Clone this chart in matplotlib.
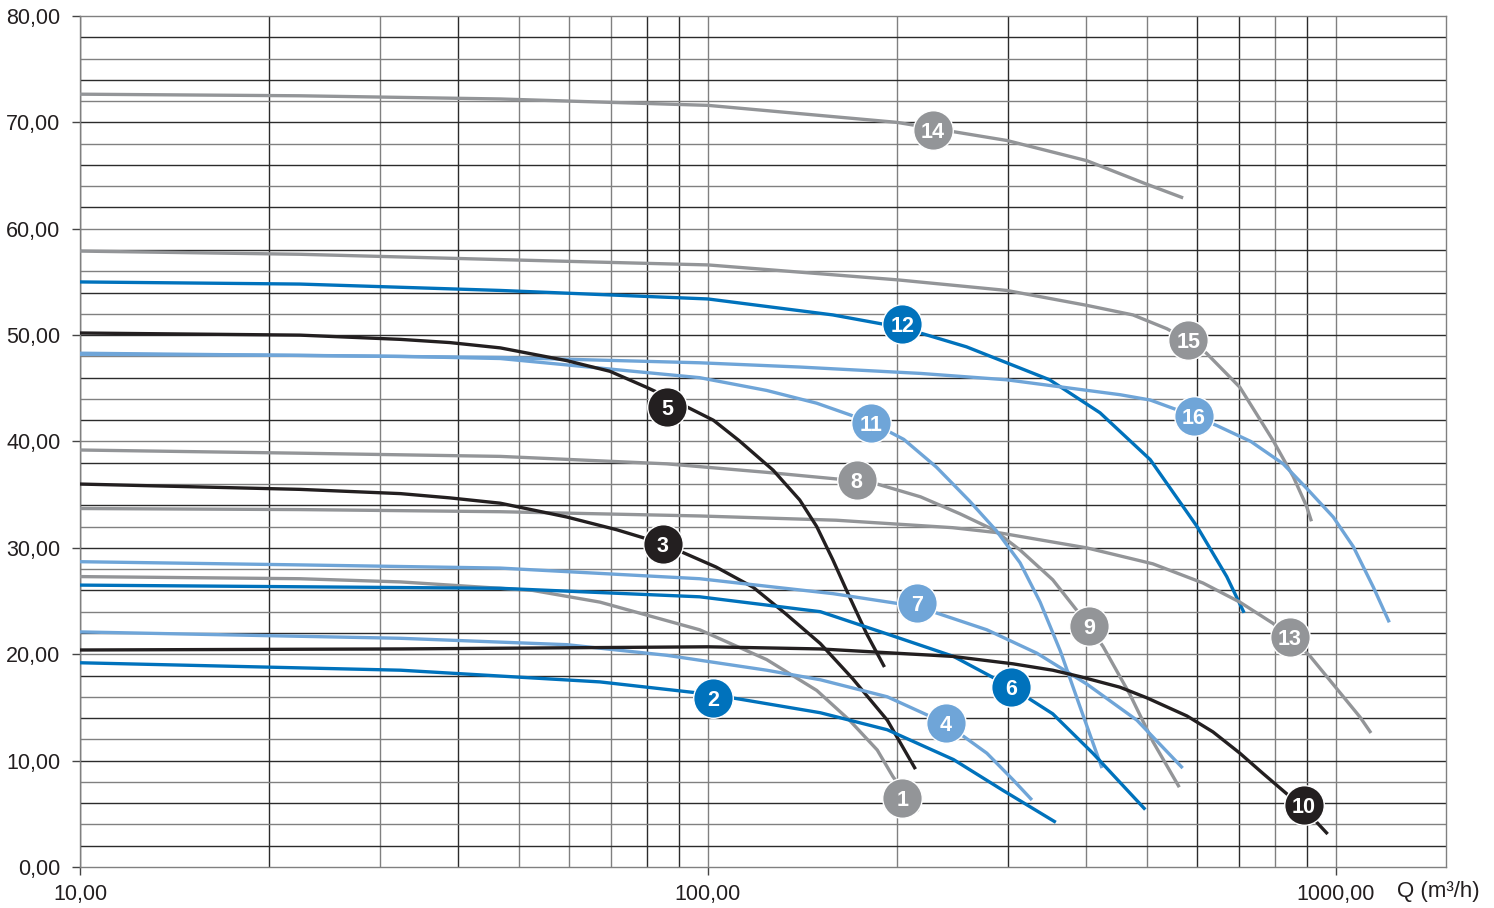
import numpy as np
import matplotlib
matplotlib.use("Agg")
import matplotlib.pyplot as plt
from matplotlib.ticker import FixedLocator, NullLocator

plt.rcParams['font.family'] = ['Liberation Sans', 'DejaVu Sans']

DARK = "#0072bc"
LIGHT = "#6fa5d8"
GRAY = "#939598"
BLACK = "#231f20"
GRID_D = "#2b2b2b"
GRID_L = "#808080"

# curve data: Q (m3/h) and H (m)
q14 = [10, 22.4, 46.7, 100, 200, 299, 401, 499, 571]
h14 = [72.65, 72.5, 72.2, 71.6, 70.0, 68.3, 66.4, 64.2, 62.9]

q15 = [10, 22.4, 46.7, 100, 200, 299, 401, 475, 538, 582, 622, 703, 794, 855, 898, 914]
h15 = [57.9, 57.6, 57.1, 56.6, 55.2, 54.2, 52.8, 51.9, 50.6, 49.5, 48.3, 45.1, 40.1, 36.7, 33.9, 32.5]

q12 = [10, 22.4, 46.7, 100, 158, 204, 258, 350, 421, 506, 601, 670, 714]
h12 = [55.0, 54.8, 54.2, 53.4, 51.9, 50.7, 48.9, 45.8, 42.7, 38.3, 32.0, 27.3, 23.9]

q16 = [10, 46.7, 97, 140, 218, 299, 453, 506, 594, 646, 732, 824, 898, 990, 1066, 1147, 1216]
h16 = [48.3, 47.9, 47.4, 47.0, 46.4, 45.8, 44.4, 43.9, 42.4, 41.5, 40.0, 37.9, 35.6, 32.9, 30.1, 26.3, 23.0]

q13 = [10, 22.4, 46.7, 97, 160, 245, 292, 401, 511, 614, 703, 794, 845, 910, 1092, 1137]
h13 = [33.7, 33.6, 33.4, 33.0, 32.6, 31.9, 31.4, 30.0, 28.5, 26.7, 24.9, 22.9, 21.6, 19.8, 14.1, 12.6]

q5 = [10, 22.4, 32.4, 38.8, 46.7, 59.6, 69.8, 79.8, 86.0, 102, 112, 127, 140, 149, 158, 168, 179, 191]
h5 = [50.2, 50.0, 49.6, 49.3, 48.8, 47.6, 46.6, 45.1, 44.2, 42.0, 40.1, 37.3, 34.5, 32.0, 28.9, 25.4, 21.9, 18.8]

q11 = [10, 22.4, 32.4, 46.7, 67.3, 97, 124, 149, 182, 205, 231, 261, 288, 314, 338, 364, 391, 424]
h11 = [48.2, 48.1, 48.0, 47.8, 46.9, 46.0, 44.8, 43.6, 41.8, 40.2, 37.6, 34.4, 31.6, 28.6, 24.9, 20.3, 15.1, 9.3]

q8 = [10, 22.4, 46.7, 86.0, 124, 172.5, 186, 218, 252, 285, 314, 354, 404, 426, 470, 511, 563]
h8 = [39.2, 38.9, 38.6, 37.9, 37.1, 36.3, 36.0, 34.8, 33.2, 31.7, 29.8, 27.0, 22.7, 20.7, 16.2, 11.8, 7.5]

q3 = [10, 22.4, 32.4, 38.8, 46.7, 59.6, 71.6, 84.7, 103, 118, 133, 151, 170, 193, 214]
h3 = [36.0, 35.5, 35.1, 34.7, 34.2, 32.9, 31.7, 30.4, 28.2, 26.3, 23.8, 21.0, 17.7, 13.8, 9.2]

q7 = [10, 22.4, 46.7, 97, 158, 215, 278, 334, 401, 482, 570]
h7 = [28.7, 28.4, 28.1, 27.1, 25.7, 24.5, 22.3, 20.1, 17.2, 13.8, 9.3]

q6 = [10, 46.7, 97, 151, 193, 246, 304, 354, 410, 497]
h6 = [26.5, 26.2, 25.4, 24.0, 21.9, 19.8, 16.9, 14.4, 10.7, 5.4]

q1 = [10, 22.4, 32.4, 52.6, 67.3, 97, 124, 149, 168, 186, 197, 216]
h1 = [27.3, 27.1, 26.8, 26.0, 24.9, 22.3, 19.5, 16.6, 13.8, 11.0, 8.5, 5.2]

q10 = [10, 32.4, 100, 151, 245, 306, 354, 391, 453, 500, 579, 637, 703, 765, 889, 970]
h10 = [20.4, 20.5, 20.7, 20.5, 19.8, 19.1, 18.5, 17.9, 16.9, 15.9, 14.2, 12.7, 10.7, 8.8, 5.5, 3.1]

q4 = [10, 32.4, 59.6, 86.0, 124, 151, 193, 239, 278, 306, 328]
h4 = [22.1, 21.5, 20.9, 19.9, 18.5, 17.6, 16.0, 13.5, 10.7, 8.2, 6.3]

q2 = [10, 32.4, 67.3, 102, 151, 193, 246, 295, 358]
h2 = [19.2, 18.5, 17.4, 16.2, 14.5, 12.9, 10.1, 7.2, 4.2]

# label number, position, colour
labels = ["1", "2", "3", "4", "5", "6", "7", "8", "9", "10", "11", "12", "13", "14", "15", "16"]
label_q = [204, 102, 84.7, 239, 86.0, 304, 215, 172.5, 404, 889, 182, 204, 845, 228, 582, 594]
label_h = [6.5, 15.9, 30.4, 13.5, 43.2, 16.9, 24.8, 36.4, 22.7, 5.8, 41.7, 51.0, 21.6, 69.3, 49.5, 42.4]
label_c = [GRAY, DARK, BLACK, LIGHT, BLACK, DARK, LIGHT, GRAY, GRAY, BLACK, LIGHT, DARK, GRAY, GRAY, GRAY, LIGHT]

curves = [
    (q14, h14, GRAY), (q15, h15, GRAY), (q12, h12, DARK), (q16, h16, LIGHT),
    (q13, h13, GRAY), (q8, h8, GRAY), (q11, h11, LIGHT), (q5, h5, BLACK),
    (q3, h3, BLACK), (q7, h7, LIGHT), (q1, h1, GRAY), (q6, h6, DARK),
    (q4, h4, LIGHT), (q10, h10, BLACK), (q2, h2, DARK),
]

fig = plt.figure(figsize=(14.94, 9.08), dpi=100)
ax = fig.add_axes([80 / 1494, 41 / 908, 1366 / 1494, 851 / 908])
ax.set_xscale("log")
ax.set_xlim(10, 1497)
ax.set_ylim(0, 80)

# grid
vlines = [10, 20, 30, 40, 50, 60, 70, 80, 90, 100, 200, 300, 400, 500, 600, 700, 800, 900, 1000]
vcols = [GRID_D, GRID_D, GRID_L, GRID_D, GRID_L, GRID_L, GRID_L, GRID_D, GRID_D, GRID_L,
         GRID_L, GRID_D, GRID_L, GRID_L, GRID_D, GRID_D, GRID_L, GRID_D, GRID_L]
for v, c in zip(vlines, vcols):
    ax.axvline(v, color=c, lw=1.0, zorder=1)
for i, h in enumerate(range(2, 80, 2)):
    ax.axhline(h, color=GRID_D if i % 2 == 0 else GRID_L, lw=1.0, zorder=1)

for q, h, c in curves:
    ax.plot(q, h, color=c, lw=2.4, solid_capstyle="butt", solid_joinstyle="round", zorder=3)

for t, x, y, c in zip(labels, label_q, label_h, label_c):
    ax.plot(x, y, "o", ms=28.5, color=c, mec="white", mew=1.0, zorder=4)
    ax.text(x, y, t, color="white", fontsize=15.5, fontweight="bold",
            ha="center", va="center_baseline", zorder=5)

for s in ax.spines.values():
    s.set_color(GRID_L)
    s.set_linewidth(1.0)

ax.xaxis.set_major_locator(FixedLocator([10, 100, 1000]))
ax.xaxis.set_minor_locator(NullLocator())
ax.set_xticklabels(["10,00", "100,00", "1000,00"])
ax.yaxis.set_major_locator(FixedLocator(list(range(0, 81, 10))))
ax.set_yticklabels(["%d,00" % v for v in range(0, 81, 10)])
ax.tick_params(axis="both", labelsize=15.5, color="#444444", length=6, width=1.0,
               labelcolor=BLACK)
ax.tick_params(axis="x", pad=6)
ax.tick_params(axis="y", pad=8)

fig.text(1480 / 1494, 1 - 892 / 908, "Q (m³/h)", fontsize=16,
         color=BLACK, ha="right", va="center")

fig.savefig("out.png", dpi=100)
